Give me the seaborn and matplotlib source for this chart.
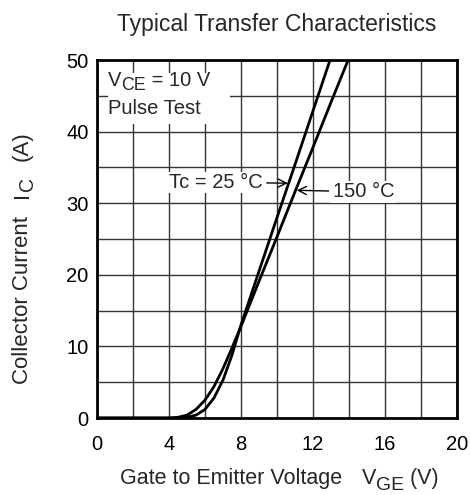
import matplotlib
matplotlib.use("Agg")
import matplotlib.pyplot as plt
from matplotlib.patches import Rectangle
import seaborn as sns
import pandas as pd
import numpy as np

# Data
vge_25 = [0, 4.5, 5.0, 5.5, 6.0, 6.5, 7.0, 7.5, 8.0, 9.0, 10.0, 11.0, 12.0, 13.0]
ic_25 = [0, 0.0, 0.1, 0.4, 1.2, 2.8, 5.3, 8.8, 13.0, 20.5, 28.0, 35.4, 42.9, 50.4]
vge_150 = [0, 4.0, 4.5, 5.0, 5.5, 6.0, 6.5, 7.0, 7.5, 8.0, 9.0, 10.0, 11.0, 12.0, 13.0, 14.0]
ic_150 = [0, 0.0, 0.1, 0.4, 1.2, 2.5, 4.4, 6.9, 9.8, 12.8, 19.1, 25.3, 31.6, 37.8, 44.1, 50.3]
x_ticks = [0, 4, 8, 12, 16, 20]
y_ticks = [0, 10, 20, 30, 40, 50]

sns.set_style("white")
plt.rcParams['font.family'] = ['Liberation Sans', 'DejaVu Sans']

FS = 14.5
FX = 15.5
FY = 16

df = pd.concat([
    pd.DataFrame({"V": vge_25, "I": ic_25, "T": "25"}),
    pd.DataFrame({"V": vge_150, "I": ic_150, "T": "150"}),
])

fig = plt.figure(figsize=(4.7, 4.95), dpi=100)
ax = fig.add_axes([97/470, 1-418/495, 360/470, 358/495])

ax.set_xticks(np.arange(0, 21, 2), minor=True)
ax.set_yticks(np.arange(0, 51, 5), minor=True)
ax.grid(True, which='both', color='#333333', linewidth=1.0)
ax.set_axisbelow(True)

sns.lineplot(data=df, x="V", y="I", hue="T", units="T", estimator=None,
             palette={"25": "black", "150": "black"}, linewidth=2.0,
             legend=False, ax=ax, sort=False)

ax.set_xlim(0, 20)
ax.set_ylim(0, 50)
ax.set_xticks(x_ticks)
ax.set_yticks(y_ticks)
ax.tick_params(axis='both', which='both', length=0, labelsize=FS, colors='black')
ax.tick_params(axis='x', pad=12)
ax.tick_params(axis='y', pad=6)
for s in ax.spines.values():
    s.set_visible(True)
    s.set_color('black')
    s.set_linewidth(2)
ax.set_xlabel('')
ax.set_ylabel('')
ax.set_title('Typical Transfer Characteristics', fontsize=16.5, pad=21)

# x-axis label with large subscript
x1 = fig.text(120/470, 1 - 484/495, 'Gate to Emitter Voltage', fontsize=FX, ha='left', va='baseline')
x2 = fig.add_artist(plt.Annotation('V', xy=(1, 0), xycoords=x1, xytext=(14, 0),
                                   textcoords='offset points', fontsize=FX, ha='left', va='bottom'))
x3 = fig.add_artist(plt.Annotation('GE', xy=(1, 0), xycoords=x2, xytext=(0.3, -3.5),
                                   textcoords='offset points', fontsize=FX * 0.9, ha='left', va='bottom'))
fig.add_artist(plt.Annotation(' (V)', xy=(1, 0), xycoords=(x3, x2), xytext=(0, 0),
                              textcoords='offset points', fontsize=FX, ha='left', va='bottom'))

# y-axis label with subscript
y1 = fig.text(33/470, 1 - 384/495, 'Collector Current', fontsize=FY, rotation=90, ha='right', va='bottom')
y2 = fig.add_artist(plt.Annotation('I', xy=(1, 1), xycoords=y1, xytext=(0, 13),
                                   textcoords='offset points', fontsize=FY, rotation=90, ha='right', va='bottom'))
y3 = fig.add_artist(plt.Annotation('C', xy=(1, 1), xycoords=y2, xytext=(3.2, 0.3),
                                   textcoords='offset points', fontsize=FY * 0.88, rotation=90, ha='right', va='bottom'))
fig.add_artist(plt.Annotation('(A)', xy=(1, 1), xycoords=(y2, y3), xytext=(0, 12),
                              textcoords='offset points', fontsize=FY, rotation=90, ha='right', va='bottom'))

# Condition box
ax.add_patch(Rectangle((0.6, 41.0), 6.8, 7.2, facecolor='white', edgecolor='none', zorder=1.5))
t1 = ax.text(0.6, 46.4, 'V', fontsize=FS, ha='left', va='baseline', zorder=3)
t2 = ax.annotate('CE', xy=(1, 0), xycoords=t1, xytext=(0.3, -3), textcoords='offset points',
                 fontsize=FS * 0.88, ha='left', va='bottom', zorder=3)
ax.annotate(' = 10 V', xy=(1, 0), xycoords=(t2, t1), xytext=(0, 0), textcoords='offset points',
            fontsize=FS, ha='left', va='bottom', zorder=3)
ax.text(0.6, 42.5, 'Pulse Test', fontsize=FS, ha='left', va='baseline', zorder=3)

ax.annotate('Tc = 25 °C', xy=(10.6, 32.8), xytext=(9.2, 32.9), fontsize=FS,
            ha='right', va='center',
            bbox=dict(facecolor='white', edgecolor='none', pad=1),
            arrowprops=dict(arrowstyle='->', color='black', lw=1, shrinkA=2, shrinkB=0))
ax.annotate('150 °C', xy=(11.1, 31.8), xytext=(13.1, 31.6), fontsize=FS,
            ha='left', va='center',
            bbox=dict(facecolor='white', edgecolor='none', pad=1),
            arrowprops=dict(arrowstyle='->', color='black', lw=1, shrinkA=2, shrinkB=0))

fig.savefig("out.png", dpi=100)
